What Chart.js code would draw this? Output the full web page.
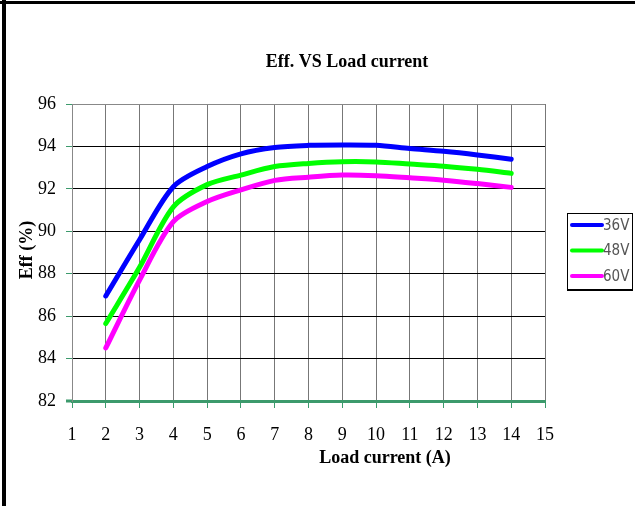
<!DOCTYPE html>
<html>
<head>
<meta charset="utf-8">
<script src="https://cdn.jsdelivr.net/npm/chart.js@4/dist/chart.umd.min.js"></script>
<style>
  html, body { margin: 0; padding: 0; background: #fff; }
  #wrap { width: 635px; height: 506px; position: relative; }
</style>
</head>
<body>
<div id="wrap"><canvas id="effChart" width="635" height="506"></canvas></div>
<script>
// Load current (A)
var loadCurrent = [2, 3, 4, 5, 6, 7, 8, 9, 10, 11, 12, 13, 14];
// Efficiency (%) per input voltage
var eff36V = [86.95, 89.6, 92.1, 93.05, 93.65, 93.95, 94.05, 94.07, 94.05, 93.9, 93.77, 93.6, 93.4];
var eff48V = [85.65, 88.3, 91.15, 92.2, 92.65, 93.05, 93.2, 93.28, 93.27, 93.17, 93.07, 92.92, 92.73];
var eff60V = [84.5, 87.7, 90.45, 91.4, 91.95, 92.4, 92.55, 92.65, 92.62, 92.52, 92.41, 92.25, 92.07];
var seriesNames = ['36V', '48V', '60V'];
var seriesColors = ['#0000ff', '#00ff00', '#ff00ff'];
var yTicks = [82, 84, 86, 88, 90, 92, 94, 96];
var xTicks = [1, 2, 3, 4, 5, 6, 7, 8, 9, 10, 11, 12, 13, 14, 15];

var serif = "'Liberation Serif', 'DejaVu Serif', serif";
var axisGreen = '#3c9a6c';

function toPoints(ys) {
  return loadCurrent.map(function(x, i) { return { x: x, y: ys[i] }; });
}

// Title, axis titles, legend and frame drawn by hand to match placement
var decorations = {
  id: 'decorations',
  afterDraw: function(chart) {
    var ctx = chart.ctx;
    var area = chart.chartArea;
    ctx.save();
    // frame
    ctx.fillStyle = '#000';
    ctx.fillRect(2, 0, 4, 506);
    ctx.fillRect(0, 1, 635, 3);

    // x axis stub left of the plot
    ctx.fillStyle = axisGreen;
    ctx.fillRect(66, area.bottom - 1.5, area.left - 66, 3);

    ctx.fillStyle = '#000';
    ctx.textAlign = 'center';
    ctx.textBaseline = 'middle';
    ctx.font = 'bold 18px ' + serif;
    ctx.fillText('Eff. VS Load current', 347, 62);
    ctx.fillText('Load current (A)', 385, 458);

    ctx.translate(27, 250);
    ctx.rotate(-Math.PI / 2);
    ctx.fillText('Eff (%)', 0, 0);
    ctx.restore();

    // legend box
    ctx.save();
    var lx = 567, ly = 213, lw = 65, lh = 77;
    ctx.fillStyle = '#fff';
    ctx.fillRect(lx, ly, lw, lh);
    ctx.strokeStyle = '#000';
    ctx.lineWidth = 1;
    ctx.strokeRect(lx + 0.5, ly + 0.5, lw, lh);
    ctx.fillStyle = '#000';
    ctx.fillRect(lx, ly + lh - 1, lw + 1, 2);
    ctx.font = '15px ' + "'DejaVu Sans Condensed', 'Liberation Sans Narrow', sans-serif";
    ctx.textAlign = 'left';
    ctx.textBaseline = 'middle';
    chart.data.datasets.forEach(function(ds, i) {
      var y = ly + 12 + i * 25.5;
      ctx.strokeStyle = ds.borderColor;
      ctx.lineWidth = 4;
      ctx.lineCap = 'round';
      ctx.beginPath();
      ctx.moveTo(lx + 5, y);
      ctx.lineTo(lx + 35, y);
      ctx.stroke();
      ctx.fillStyle = '#555';
      ctx.fillText(ds.label, lx + 36, y + 1);
    });
    ctx.restore();
  }
};

new Chart(document.getElementById('effChart').getContext('2d'), {
  type: 'line',
  data: {
    datasets: [
      { label: seriesNames[0], data: toPoints(eff36V), borderColor: seriesColors[0] },
      { label: seriesNames[1], data: toPoints(eff48V), borderColor: seriesColors[1] },
      { label: seriesNames[2], data: toPoints(eff60V), borderColor: seriesColors[2] }
    ]
  },
  options: {
    responsive: false,
    animation: false,
    devicePixelRatio: 1,
    layout: { padding: { left: 0, top: 104, right: 90, bottom: 0 } },
    elements: {
      line: { borderWidth: 5, tension: 0.3, borderCapStyle: 'round' },
      point: { radius: 0 }
    },
    plugins: {
      legend: { display: false },
      title: { display: false },
      tooltip: { enabled: false }
    },
    scales: {
      x: {
        type: 'linear',
        min: xTicks[0],
        max: xTicks[xTicks.length - 1],
        afterBuildTicks: function(scale) {
          scale.ticks = xTicks.map(function(v) { return { value: v }; });
        },
        afterFit: function(scale) { scale.height = 105; },
        border: { display: true, color: axisGreen, width: 3 },
        grid: { color: '#777', lineWidth: 1, tickColor: axisGreen, tickLength: 7, drawOnChartArea: true },
        ticks: { color: '#000', padding: 16, maxRotation: 0, font: { family: serif, size: 18 } }
      },
      y: {
        min: yTicks[0],
        max: yTicks[yTicks.length - 1],
        afterBuildTicks: function(scale) {
          scale.ticks = yTicks.map(function(v) { return { value: v }; });
        },
        afterFit: function(scale) { scale.width = 72; },
        border: { display: true, color: '#888', width: 1 },
        grid: {
          color: function(c) { return c.tick && c.tick.value === 96 ? '#888' : '#000'; },
          lineWidth: 1,
          tickColor: axisGreen,
          tickLength: 6
        },
        ticks: { color: '#000', padding: 10, font: { family: serif, size: 18 } }
      }
    }
  },
  plugins: [decorations]
});
</script>
</body>
</html>
